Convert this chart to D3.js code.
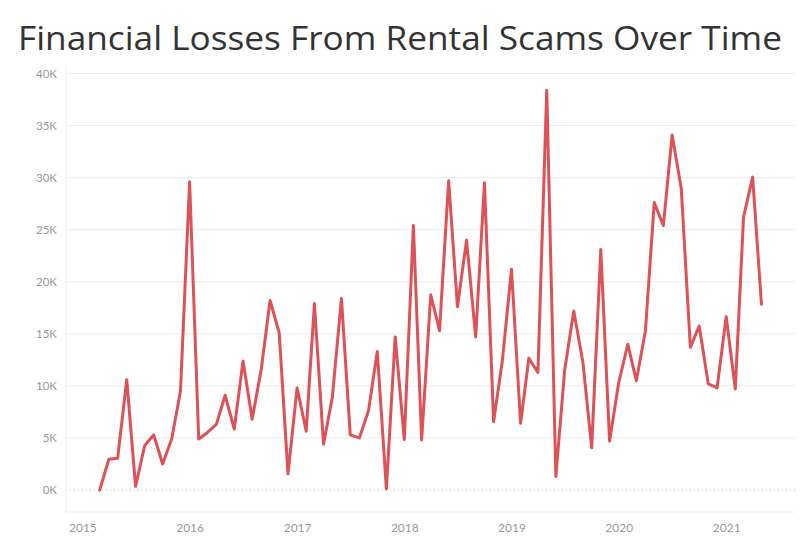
<!DOCTYPE html>
<html><head><meta charset="utf-8">
<script src="https://cdn.jsdelivr.net/npm/d3@7"></script>
<style>body{margin:0;background:#fff}svg{display:block}</style>
</head><body>
<svg id="c" width="800" height="548"></svg>
<script>
const startMonth = "2015-03";
const losses = [0,2950,3050,10600,350,4250,5300,2500,4900,9500,
29600,4900,5500,6300,9100,5850,12400,6800,11600,18200,15100,1550,
9800,5650,17900,4400,8900,18400,5300,5000,7600,13300,100,14700,
4850,25400,4800,18750,15300,29700,17600,24000,14700,29500,6550,12450,
21200,6400,12650,11300,38400,1300,11500,17200,12300,4050,23100,4700,
10300,14000,10500,15300,27600,25400,34100,28950,13700,15750,10200,9800,
16650,9700,26200,30050,17850];
const yTicks = [0,5000,10000,15000,20000,25000,30000,35000,40000];
const yearTicks = [2015,2016,2017,2018,2019,2020,2021];
const title = "Financial Losses From Rental Scams Over Time";

const start = d3.timeParse("%Y-%m")(startMonth);
const data = losses.map((v,i)=>({date:d3.timeMonth.offset(start,i), value:v}));

const svg = d3.select("#c");
const pL=66, pR=795, pT=66, pB=512;
const x = d3.scaleTime().domain([new Date(2015,0,1), new Date(2021,0,1)]).range([82.4, 726.2]);
const y = d3.scaleLinear().domain([0,40000]).range([490, 73.5]);

svg.append("text").attr("x",400).attr("y",50).attr("text-anchor","middle")
  .attr("font-family","Open Sans, sans-serif").attr("font-size",33).attr("fill","#333")
  .attr("textLength",764).attr("lengthAdjust","spacingAndGlyphs").text(title);

// gridlines
svg.append("g").selectAll("line").data(yTicks.filter(d=>d>0)).join("line")
  .attr("x1",pL).attr("x2",pR).attr("y1",d=>y(d)).attr("y2",d=>y(d))
  .attr("stroke","#ececec").attr("stroke-width",1);
svg.append("line").attr("x1",pL).attr("x2",pR).attr("y1",y(0)).attr("y2",y(0))
  .attr("stroke","#bbb").attr("stroke-width",1).attr("stroke-dasharray","1,3");
// frame
svg.append("line").attr("x1",pL).attr("x2",pL).attr("y1",pT).attr("y2",pB).attr("stroke","#eee");
svg.append("line").attr("x1",pL).attr("x2",pR).attr("y1",pB).attr("y2",pB).attr("stroke","#eee");

// y axis
const yAxis = d3.axisLeft(y).tickValues(yTicks).tickFormat(d=>(d/1000)+"K").tickSize(0).tickPadding(9);
const gy = svg.append("g").attr("transform",`translate(${pL},0)`).call(yAxis);
gy.select(".domain").remove();
gy.selectAll("text").attr("font-family","Lato, sans-serif").attr("font-size",11.5).attr("fill","#999");

// x axis
const xAxis = d3.axisBottom(x).tickValues(yearTicks.map(yr=>new Date(yr,0,1))).tickFormat(d3.timeFormat("%Y")).tickSize(0).tickPadding(11);
const gx = svg.append("g").attr("transform",`translate(0,${pB})`).call(xAxis);
gx.select(".domain").remove();
gx.selectAll("text").attr("font-family","Lato, sans-serif").attr("font-size",12).attr("fill","#999");

// line
svg.append("path").datum(data)
  .attr("fill","none").attr("stroke","#dc5257").attr("stroke-width",3)
  .attr("stroke-linejoin","round").attr("stroke-linecap","round")
  .attr("d", d3.line().x(d=>x(d.date)).y(d=>y(d.value)));
</script>
</body></html>
